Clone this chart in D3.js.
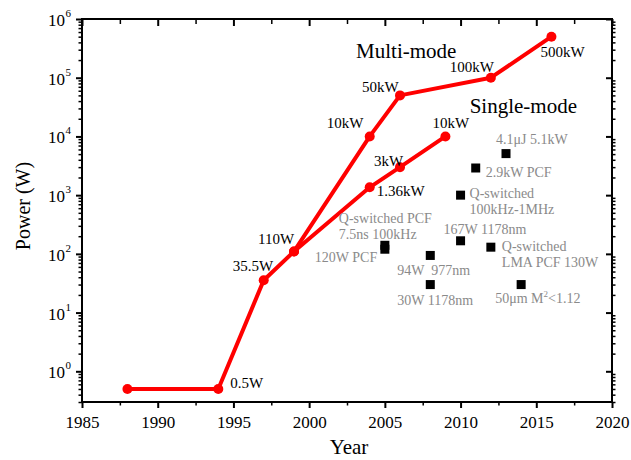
<!DOCTYPE html>
<html>
<head>
<meta charset="utf-8">
<script src="https://cdn.jsdelivr.net/npm/d3@7"></script>
<style>
body { margin: 0; background: #fff; }
svg text { font-family: "Liberation Serif", "Times New Roman", Times, serif !important; }
</style>
</head>
<body>
<div id="chart"></div>
<script>
// multi-mode record powers
var multiYears = [1988, 1994, 1997, 1999, 2004, 2006, 2012, 2016];
var multiPower = [0.5, 0.5, 35.5, 110, 10000, 50000, 100000, 500000];
var multiLabels = ['', '0.5W', '35.5W', '110W', '10kW', '50kW', '100kW', '500kW'];

// single-mode record powers
var singleYears = [1999, 2004, 2006, 2009];
var singlePower = [110, 1360, 3000, 10000];
var singleLabels = ['', '1.36kW', '3kW', '10kW'];

// other single-mode results (black squares)
var otherYears = [2013, 2011, 2010, 2010, 2012, 2005, 2005, 2008, 2008, 2014];
var otherPower = [5100, 2900, 1000, 167, 130, 140, 120, 94, 30, 30];
var otherLabels = [
    ['4.1\u03bcJ 5.1kW'],
    ['2.9kW PCF'],
    ['Q-switched', '100kHz-1MHz'],
    ['167W 1178nm'],
    ['Q-switched', 'LMA PCF 130W'],
    ['Q-switched PCF', '7.5ns 100kHz'],
    ['120W PCF'],
    ['94W  977nm'],
    ['30W 1178nm'],
    ['50\u03bcm M|2|<1.12']
];

var xTicks = [1985, 1990, 1995, 2000, 2005, 2010, 2015, 2020];
var yTicks = [1, 10, 100, 1000, 10000, 100000, 1000000];

// label offsets from their points (px)
var multiOffsets = [[0, 0], [12, -1], [-31, -9], [-36, -7], [-43, -8], [-38, -3], [-41, -6], [-11, 20]];
var singleOffsets = [[0, 0], [7, 9], [-26, -1], [-13, -8]];
var otherOffsets = [[-10, -10], [10, 9], [9, 3], [-17, -7], [11, 4], [-46, -22], [-70, 13], [-33, 20], [-33, 20], [-26, 18]];

var serif = '"Liberation Serif", "Times New Roman", Times, serif';
var w = 631, h = 460;
var margin = {top: 19, right: 19, bottom: 58, left: 82};

var svg = d3.select('#chart').append('svg')
    .attr('width', w)
    .attr('height', h)
    .attr('font-family', serif);

var x = d3.scaleLinear().domain([1985, 2020]).range([margin.left, w - margin.right]);
var y = d3.scaleLog().domain([0.3, 1e6]).range([h - margin.bottom, margin.top]);

var xMinor = d3.range(1987.5, 2020, 5);
var yMinor = [];
for (var e = -1; e < 6; e++) {
    for (var m = 2; m < 10; m++) {
        var v = m * Math.pow(10, e);
        if (v >= 0.3 && v <= 1e6) yMinor.push(v);
    }
}

function tidy(g, sw) {
    g.attr('font-family', serif);
    g.select('.domain').remove();
    g.selectAll('line').attr('stroke-width', sw);
    return g;
}

// bottom axis
var xAxis = tidy(svg.append('g')
    .attr('transform', 'translate(0,' + (h - margin.bottom) + ')')
    .call(d3.axisBottom(x).tickValues(xTicks).tickSize(6).tickPadding(8).tickFormat(d3.format('d'))), 2);
xAxis.selectAll('text').attr('font-size', 17).attr('fill', '#000');

tidy(svg.append('g')
    .attr('transform', 'translate(0,' + (h - margin.bottom) + ')')
    .call(d3.axisBottom(x).tickValues(xMinor).tickSize(3.5).tickFormat('')), 1.5);

// top axis, ticks pointing in
tidy(svg.append('g')
    .attr('transform', 'translate(0,' + margin.top + ')')
    .call(d3.axisTop(x).tickValues(xTicks).tickSize(-7).tickFormat('')), 2);
tidy(svg.append('g')
    .attr('transform', 'translate(0,' + margin.top + ')')
    .call(d3.axisTop(x).tickValues(xMinor).tickSize(-5).tickFormat('')), 1.5);

// left axis
tidy(svg.append('g')
    .attr('transform', 'translate(' + margin.left + ',0)')
    .call(d3.axisLeft(y).tickValues(yTicks).tickSize(6).tickFormat('')), 2);
tidy(svg.append('g')
    .attr('transform', 'translate(' + margin.left + ',0)')
    .call(d3.axisLeft(y).tickValues(yMinor).tickSize(3.5).tickFormat('')), 1.5);

// right axis
tidy(svg.append('g')
    .attr('transform', 'translate(' + (w - margin.right) + ',0)')
    .call(d3.axisRight(y).tickValues(yTicks).tickSize(-6).tickFormat('')), 2);
tidy(svg.append('g')
    .attr('transform', 'translate(' + (w - margin.right) + ',0)')
    .call(d3.axisRight(y).tickValues(yMinor).tickSize(3.5).tickFormat('')), 1.5);

// y tick labels 10^n
svg.append('g').selectAll('text')
    .data(yTicks)
    .enter().append('text')
    .attr('x', margin.left - 17)
    .attr('y', function(d) { return y(d) + 7; })
    .attr('text-anchor', 'end')
    .attr('font-size', 17)
    .text('10');
svg.append('g').selectAll('text')
    .data(yTicks)
    .enter().append('text')
    .attr('x', margin.left - 16.5)
    .attr('y', function(d) { return y(d) - 2; })
    .attr('font-size', 11)
    .text(function(d) { return Math.round(Math.log10(d)); });

// frame
svg.append('rect')
    .attr('x', margin.left)
    .attr('y', margin.top)
    .attr('width', w - margin.left - margin.right)
    .attr('height', h - margin.top - margin.bottom)
    .attr('fill', 'none')
    .attr('stroke', '#000')
    .attr('stroke-width', 2);

// axis titles
svg.append('text')
    .attr('transform', 'translate(30,206) rotate(-90)')
    .attr('text-anchor', 'middle')
    .attr('font-size', 20)
    .text('Power (W)');
svg.append('text')
    .attr('x', 349)
    .attr('y', 454)
    .attr('text-anchor', 'middle')
    .attr('font-size', 21)
    .text('Year');

// lines
var line = d3.line()
    .x(function(d) { return x(d[0]); })
    .y(function(d) { return y(d[1]); });

var multiData = multiYears.map(function(d, i) { return [d, multiPower[i]]; });
var singleData = singleYears.map(function(d, i) { return [d, singlePower[i]]; });

[multiData, singleData].forEach(function(data) {
    svg.append('path')
        .datum(data)
        .attr('d', line)
        .attr('fill', 'none')
        .attr('stroke', '#ff0000')
        .attr('stroke-width', 4)
        .attr('stroke-linejoin', 'round');
    svg.append('g').selectAll('circle')
        .data(data)
        .enter().append('circle')
        .attr('cx', function(d) { return x(d[0]); })
        .attr('cy', function(d) { return y(d[1]); })
        .attr('r', 5)
        .attr('fill', '#ff0000');
});

// point labels
function addLabels(years, power, labels, offsets) {
    for (var i = 0; i < years.length; i++) {
        if (!labels[i]) continue;
        svg.append('text')
            .attr('x', x(years[i]) + offsets[i][0])
            .attr('y', y(power[i]) + offsets[i][1])
            .attr('font-size', 15)
            .attr('fill', '#000')
            .text(labels[i]);
    }
}
addLabels(multiYears, multiPower, multiLabels, multiOffsets);
addLabels(singleYears, singlePower, singleLabels, singleOffsets);

// other results
svg.append('g').selectAll('rect')
    .data(otherYears)
    .enter().append('rect')
    .attr('x', function(d) { return x(d) - 4.5; })
    .attr('y', function(d, i) { return y(otherPower[i]) - 4.5; })
    .attr('width', 9)
    .attr('height', 9)
    .attr('fill', '#000');

for (var i = 0; i < otherYears.length; i++) {
    var px = x(otherYears[i]) + otherOffsets[i][0];
    var py = y(otherPower[i]) + otherOffsets[i][1];
    otherLabels[i].forEach(function(s, k) {
        var t = svg.append('text')
            .attr('x', px)
            .attr('y', py + k * 16)
            .attr('fill', '#8a8a8a')
            .attr('font-size', 14)
            .attr('xml:space', 'preserve');
        var parts = s.split('|');
        if (parts.length == 1) {
            t.text(s);
        } else {
            t.append('tspan').text(parts[0]);
            t.append('tspan').attr('dy', -6).attr('font-size', 9).text(parts[1]);
            t.append('tspan').attr('dy', 6).text(parts[2]);
        }
    });
}

// mode titles
var modeNames = ['Multi-mode', 'Single-mode'];
var modeYears = [2003.1, 2010.6];
var modePower = [220000, 25000];
for (var i = 0; i < modeNames.length; i++) {
    svg.append('text')
        .attr('x', x(modeYears[i]))
        .attr('y', y(modePower[i]))
        .attr('font-size', 21)
        .text(modeNames[i]);
}
</script>
</body>
</html>
